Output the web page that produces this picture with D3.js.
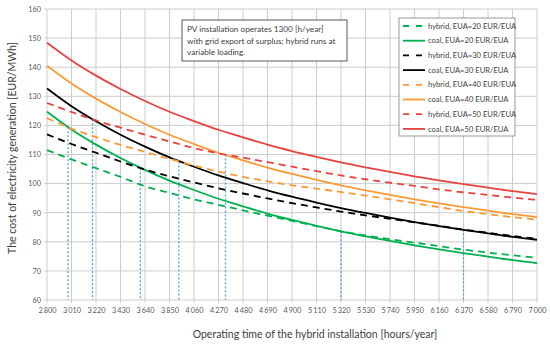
<html>
<head>
  <script src="https://d3js.org/d3.v7.min.js"></script>
  <style>
    body { margin: 0; background: #fff; }
    text { font-family: Lato, "Open Sans", sans-serif; fill: #404040; }
    .grid line { stroke: #cccccc; stroke-width: 1px; }
    .axis path { display: none; }
    .axis text { font-size: 7.3px; fill: #595959; }
  </style>
</head>
<body>
  <svg id="chart" width="550" height="345"></svg>
  <script>
    // operating hours (x ticks) and the cost curves
    const hours = [2800, 3010, 3220, 3430, 3640, 3850, 4060, 4270, 4480, 4690, 4900,
      5110, 5320, 5530, 5740, 5950, 6160, 6370, 6580, 6790, 7000];
    const hybrid20 = [111.5, 108.3, 105.3, 102.3, 99.1, 96.8, 94.6, 92.7, 90.8, 89.0, 87.2,
      85.4, 83.6, 82.2, 80.9, 79.7, 78.5, 77.3, 76.3, 75.4, 74.5];
    const coal20 = [124.7, 118.6, 113.4, 108.8, 104.7, 101.0, 97.8, 94.8, 92.2, 89.7, 87.5,
      85.5, 83.6, 81.9, 80.3, 78.8, 77.4, 76.1, 74.9, 73.7, 72.7];
    const hybrid30 = [116.9, 113.6, 110.6, 107.6, 104.8, 102.5, 100.4, 98.4, 96.6, 94.9, 93.3,
      91.8, 90.4, 89.1, 87.9, 86.7, 85.5, 84.2, 83.1, 82.0, 81.0];
    const coal30 = [132.7, 126.6, 121.4, 116.8, 112.7, 109.0, 105.8, 102.8, 100.2, 97.7, 95.5,
      93.5, 91.6, 89.9, 88.3, 86.8, 85.4, 84.1, 82.9, 81.7, 80.7];
    const hybrid40 = [122.5, 118.9, 116.0, 113.3, 110.9, 108.5, 106.2, 104.1, 102.3, 100.8, 99.4,
      98.3, 97.1, 95.9, 94.6, 93.3, 91.9, 90.6, 89.5, 88.5, 87.6];
    const coal40 = [140.5, 134.4, 129.2, 124.6, 120.5, 116.8, 113.6, 110.6, 108.0, 105.5, 103.3,
      101.3, 99.4, 97.7, 96.1, 94.6, 93.2, 91.9, 90.7, 89.5, 88.5];
    const hybrid50 = [127.7, 124.6, 121.7, 119.2, 116.8, 114.5, 112.2, 110.4, 108.9, 107.4, 105.8,
      104.3, 102.8, 101.5, 100.3, 99.2, 98.0, 97.0, 96.1, 95.2, 94.4];
    const coal50 = [148.4, 142.3, 137.1, 132.5, 128.4, 124.7, 121.5, 118.5, 115.9, 113.4, 111.2,
      109.2, 107.3, 105.6, 104.0, 102.5, 101.1, 99.8, 98.6, 97.4, 96.4];

    // blue dotted drop lines at the crossing points
    const markerHours = [2980, 3190, 3600, 3930, 4330, 5320, 6370];
    const markerCost = [119.4, 122.1, 105.3, 107.6, 110.0, 83.6, 84.2];

    const yTicks = [60, 70, 80, 90, 100, 110, 120, 130, 140, 150, 160];
    const legendLabels = ['hybrid, EUA=20 EUR/EUA', 'coal, EUA=20 EUR/EUA',
      'hybrid, EUA=30 EUR/EUA', 'coal, EUA=30 EUR/EUA',
      'hybrid, EUA=40 EUR/EUA', 'coal, EUA=40 EUR/EUA',
      'hybrid, EUA=50 EUR/EUA', 'coal, EUA=50 EUR/EUA'];
    const noteLines = ['PV installation operates 1300 [h/year]',
      'with grid export of surplus; hybrid runs at',
      'variable loading.'];

    const colors = ['#00b050', '#000000', '#fb9a35', '#e8423f'];
    const series = [hybrid20, coal20, hybrid30, coal30, hybrid40, coal40, hybrid50, coal50]
      .map((vals, i) => ({
        label: legendLabels[i],
        color: colors[Math.floor(i / 2)],
        dashed: i % 2 === 0,
        values: vals
      }));

    const svg = d3.select('svg#chart');
    const margin = { top: 9, right: 13, bottom: 45, left: 47 };
    const width = 550 - margin.left - margin.right;
    const height = 345 - margin.top - margin.bottom;
    const g = svg.append('g').attr('transform', `translate(${margin.left},${margin.top})`);

    let x = d3.scaleLinear().domain([2800, 7000]).range([0, width]);
    let y = d3.scaleLinear().domain([60, 160]).range([height, 0]);

    // shrink/grow a text node's font so it spans roughly the width seen in the figure
    function fitText(sel, target) {
      const node = sel.node();
      const fs = parseFloat(sel.attr('font-size'));
      const w = node.getComputedTextLength();
      if (w > 0) sel.attr('font-size', (fs * target / w).toFixed(2));
    }

    // grid
    g.append('g').attr('class', 'grid')
      .selectAll('line.h').data(yTicks).join('line')
      .attr('x1', -3).attr('x2', width)
      .attr('y1', d => y(d)).attr('y2', d => y(d));
    g.append('g').attr('class', 'grid')
      .selectAll('line.v').data(hours).join('line')
      .attr('x1', d => x(d)).attr('x2', d => x(d))
      .attr('y1', 0).attr('y2', height + 3);

    // axes (labels only)
    const fmt = d => d3.format(',')(d).replace(',', '\u2009');
    g.append('g').attr('class', 'axis')
      .attr('transform', `translate(0,${height})`)
      .call(d3.axisBottom(x).tickValues(hours).tickFormat(fmt).tickSize(0).tickPadding(8));
    g.append('g').attr('class', 'axis')
      .call(d3.axisLeft(y).tickValues(yTicks).tickSize(0).tickPadding(6));

    // drop lines
    g.append('g').selectAll('line').data(markerHours).join('line')
      .attr('x1', d => x(d)).attr('x2', d => x(d))
      .attr('y1', (d, i) => y(markerCost[i])).attr('y2', height)
      .attr('stroke', '#5b9bd5').attr('stroke-width', 1.3)
      .attr('stroke-dasharray', '2,2');

    // curves
    let line = d3.line()
      .x((d, i) => x(hours[i]))
      .y(d => y(d))
      .curve(d3.curveMonotoneX);
    g.append('g').selectAll('path').data(series).join('path')
      .attr('d', d => line(d.values))
      .attr('fill', 'none')
      .attr('stroke', d => d.color)
      .attr('stroke-width', 1.8)
      .attr('stroke-dasharray', d => d.dashed ? '7,5' : null);

    // note box
    const note = g.append('g').attr('transform', 'translate(135,11)');
    note.append('rect').attr('width', 165).attr('height', 41)
      .attr('fill', '#fff').attr('stroke', '#595959').attr('stroke-width', 1);
    note.selectAll('text').data(noteLines).join('text')
      .attr('x', 5).attr('y', (d, i) => 12 + i * 11.5)
      .attr('font-size', 8.2)
      .text(d => d);

    // legend
    const legend = g.append('g').attr('transform', 'translate(352,9)');
    legend.append('rect').attr('width', 116).attr('height', 118)
      .attr('fill', '#fff').attr('stroke', '#7f7f7f').attr('stroke-width', 0.8);
    const item = legend.selectAll('g').data(series).join('g')
      .attr('transform', (d, i) => `translate(4,${8 + i * 14.7})`);
    item.append('line').attr('x1', 0).attr('x2', 22)
      .attr('stroke', d => d.color).attr('stroke-width', 1.8)
      .attr('stroke-dasharray', d => d.dashed ? '6,7' : null);
    item.append('text').attr('x', 25).attr('dy', '0.35em')
      .attr('font-size', 7.6)
      .text(d => d.label);

    // axis titles
    const xTitle = svg.append('text')
      .attr('x', 315).attr('y', 337.5)
      .attr('text-anchor', 'middle').attr('font-size', 10)
      .text('Operating time of the hybrid installation [hours/year]');
    fitText(xTitle, 245);
    const yTitle = svg.append('text')
      .attr('transform', 'translate(15.5,148) rotate(-90)')
      .attr('text-anchor', 'middle').attr('font-size', 10)
      .text('The cost of electricity generation [EUR/MWh]');
    fitText(yTitle, 212);
  </script>
</body>
</html>
